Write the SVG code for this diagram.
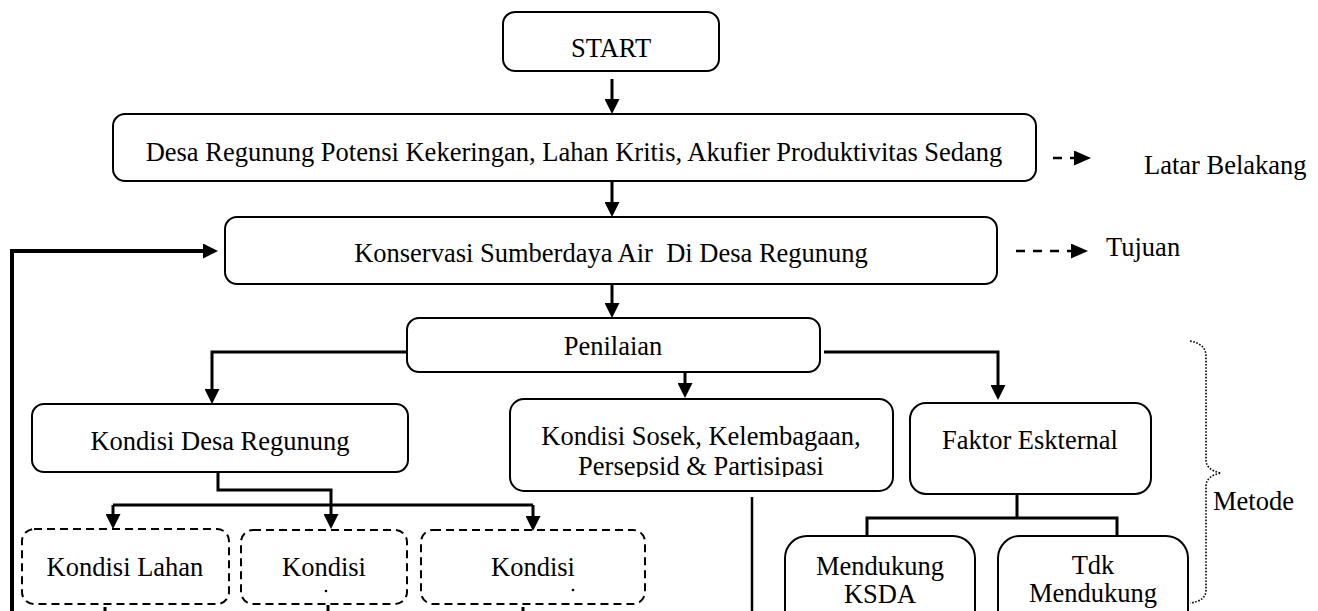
<svg xmlns="http://www.w3.org/2000/svg" width="1318" height="611" viewBox="0 0 1318 611">
<style>
text{font-family:"Liberation Serif","Times New Roman",serif;font-size:26.5px;fill:#000}
.c{text-anchor:middle}
.box{fill:#fff;stroke:#000;stroke-width:2}
.dbox{fill:#fff;stroke:#000;stroke-width:2;stroke-dasharray:8,5}
.con{fill:none;stroke:#000;stroke-width:3}
.dash{fill:none;stroke:#000;stroke-width:2.5;stroke-dasharray:9,8}
.brace{fill:none;stroke:#000;stroke-width:1.6;stroke-dasharray:1.6,1.6}
</style>
<defs>
<marker id="ah" markerUnits="userSpaceOnUse" markerWidth="15" markerHeight="15" refX="11" refY="7.5" orient="auto">
<path d="M0,0 L15,7.5 L0,15 z" fill="#000"/>
</marker>
<marker id="dh" markerUnits="userSpaceOnUse" markerWidth="17" markerHeight="15" refX="13" refY="7.5" orient="auto">
<path d="M0,0 L17,7.5 L0,15 z" fill="#000"/>
</marker>
<clipPath id="clipSosek"><rect x="500" y="380" width="400" height="97"/></clipPath>
</defs>

<g id="start"><rect class="box" x="503" y="12" width="216" height="59" rx="12"/><text class="c" x="611" y="57">START</text></g>
<g id="latar"><rect class="box" x="113" y="114" width="923" height="67" rx="12"/><text class="c" x="574" y="161">Desa Regunung Potensi Kekeringan, Lahan Kritis, Akufier Produktivitas Sedang</text></g>
<g id="konservasi"><rect class="box" x="225" y="217" width="772" height="67" rx="12"/><text class="c" x="611" y="262" xml:space="preserve">Konservasi Sumberdaya Air  Di Desa Regunung</text></g>
<g id="penilaian"><rect class="box" x="407" y="318" width="413" height="54" rx="12"/><text class="c" x="613" y="355">Penilaian</text></g>
<g id="kondisi-desa"><rect class="box" x="32" y="404" width="376" height="68" rx="12"/><text class="c" x="220" y="450">Kondisi Desa Regunung</text></g>
<g id="kondisi-sosek"><rect class="box" x="510" y="399" width="383" height="92" rx="14"/><text class="c" x="701" y="445">Kondisi Sosek, Kelembagaan,</text><text class="c" x="701" y="475" clip-path="url(#clipSosek)">Persepsid &amp; Partisipasi</text></g>
<g id="faktor"><rect class="box" x="910" y="403" width="241" height="91" rx="16"/><text class="c" x="1030" y="449">Faktor Eskternal</text></g>
<g id="kondisi-lahan"><rect class="dbox" x="22" y="529" width="207" height="75" rx="12"/><text class="c" x="125" y="576">Kondisi Lahan</text></g>
<g id="kondisi-2"><rect class="dbox" x="241" y="530" width="166" height="74" rx="12"/><text class="c" x="324" y="576">Kondisi</text><circle cx="326" cy="591" r="1.3" fill="#000"/></g>
<g id="kondisi-3"><rect class="dbox" x="421" y="530" width="224" height="74" rx="12"/><text class="c" x="533" y="576">Kondisi</text><circle cx="573" cy="590" r="1.3" fill="#000"/></g>
<g id="mendukung"><rect class="box" x="785" y="536" width="190" height="100" rx="22"/><text class="c" x="880" y="575">Mendukung</text><text class="c" x="880" y="603">KSDA</text></g>
<g id="tdk-mendukung"><rect class="box" x="998" y="536" width="190" height="100" rx="22"/><text class="c" x="1093" y="574">Tdk</text><text class="c" x="1093" y="602">Mendukung</text></g>

<g id="labels">
<text x="1144" y="174">Latar Belakang</text>
<text x="1106" y="256">Tujuan</text>
<text x="1213" y="510">Metode</text>
<path class="brace" d="M1190,341 Q1206,344 1206,356 V460 Q1206,470 1221,473 Q1206,476 1206,486 V590 Q1206,601 1190,603"/>
</g>

<g id="connectors">
<path class="con" d="M612,79 V110" marker-end="url(#ah)"/>
<path class="con" d="M612,181 V213" marker-end="url(#ah)"/>
<path class="con" d="M612,284 V314" marker-end="url(#ah)"/>
<path class="con" d="M407,352 H212 V400" marker-end="url(#ah)"/>
<path class="con" d="M685,372 V394" marker-end="url(#ah)"/>
<path class="con" d="M824,352 H998 V396" marker-end="url(#ah)"/>
<path class="con" style="stroke-width:4" d="M12,611 V251 H214" marker-end="url(#ah)"/>
<path class="con" d="M218,472 V490 H331 V525" marker-end="url(#ah)"/>
<path class="con" d="M113,505 H533"/>
<path class="con" d="M113,505 V525" marker-end="url(#ah)"/>
<path class="con" d="M533,505 V527" marker-end="url(#ah)"/>
<path class="con" style="stroke-width:2.5" d="M752,497 V611"/>
<path class="con" d="M1017,494 V518"/>
<path class="con" d="M867,536 V518 H1117 V536"/>
<path class="con" d="M105,607 V611"/>
<path class="con" d="M328,605 V611"/>
<path class="con" d="M523,607 V611"/>
<path class="dash" d="M1053,158 H1087" marker-end="url(#dh)"/>
<path class="dash" d="M1016,251 H1084" marker-end="url(#dh)"/>
</g>
</svg>
